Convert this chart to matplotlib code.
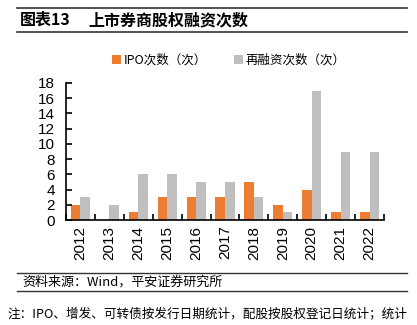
import matplotlib.pyplot as plt
import numpy as np

plt.rcParams['font.family'] = ['Noto Sans CJK SC', 'DejaVu Sans']

years = ['2012', '2013', '2014', '2015', '2016', '2017', '2018', '2019', '2020', '2021', '2022']
ipo = [2, 0, 1, 3, 3, 3, 5, 2, 4, 1, 1]
refin = [3, 2, 6, 6, 5, 5, 3, 1, 17, 9, 9]

orange = '#ED7D31'
gray = '#BFBFBF'
num_font = 'Liberation Sans'

fig = plt.figure(figsize=(4.17, 3.25), dpi=100)
ax = fig.add_axes([66 / 417, 1 - 220 / 325, 318 / 417, 137 / 325])

x = np.arange(len(years))
w = 0.33
ax.bar(x - w / 2, ipo, w, color=orange, label='IPO次数（次）')
ax.bar(x + w / 2, refin, w, color=gray, label='再融资次数（次）')

ax.set_xlim(-0.5, len(years) - 0.5)
ax.set_ylim(0, 18)
ax.set_yticks(range(0, 19, 2))
ax.set_yticklabels([str(v) for v in range(0, 19, 2)], family=num_font, fontsize=11)
ax.set_xticks(np.arange(-0.5, len(years), 1), minor=False)
ax.set_xticklabels([])
ax.set_xticks(x, minor=True)
ax.set_xticklabels(years, minor=True, rotation=90, fontsize=11, family=num_font)
ax.tick_params(axis='x', which='minor', length=0, pad=4)
ax.tick_params(axis='x', which='major', direction='in', length=4, width=1.2)
ax.tick_params(axis='y', direction='in', length=4, width=1.2, pad=8)
for s in ['top', 'right']:
    ax.spines[s].set_visible(False)
ax.spines['left'].set_linewidth(1.2)
ax.spines['bottom'].set_linewidth(1.2)

leg = fig.legend(loc='center', bbox_to_anchor=(229 / 417, 1 - 60 / 325), ncol=2, frameon=False,
                 fontsize=9, handlelength=0.7, handleheight=0.7, columnspacing=2.2, handletextpad=0.2)

# title block
fig.add_artist(plt.Line2D([17 / 417, 407 / 417], [1 - 8 / 325] * 2, color='#333333', lw=1.2))
fig.add_artist(plt.Line2D([17 / 417, 407 / 417], [1 - 32 / 325] * 2, color='#333333', lw=1.2))
fig.text(20 / 417, 1 - 20 / 325, '图表13', fontsize=11.5, fontweight='bold', va='center')
fig.text(88 / 417, 1 - 20 / 325, '上市券商股权融资次数', fontsize=11.5, fontweight='bold', va='center')

# source block
fig.add_artist(plt.Line2D([17 / 417, 407 / 417], [1 - 273 / 325] * 2, color='#333333', lw=1.0))
fig.add_artist(plt.Line2D([17 / 417, 407 / 417], [1 - 291 / 325] * 2, color='#333333', lw=1.0))
fig.text(22 / 417, 1 - 282 / 325, '资料来源：Wind，平安证券研究所', fontsize=9.4, style='italic', va='center')
fig.text(8 / 417, 1 - 314 / 325, '注：IPO、增发、可转债按发行日期统计，配股按股权登记日统计；统计',
         fontsize=9.1, style='italic', va='center')

fig.savefig('out.png', dpi=100)
